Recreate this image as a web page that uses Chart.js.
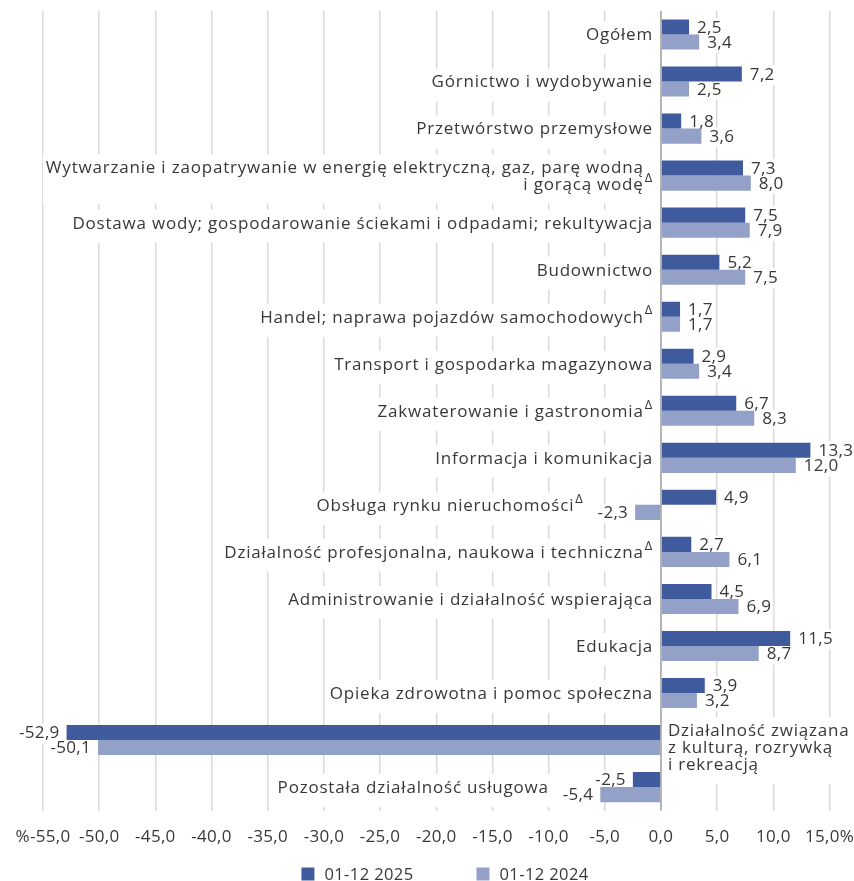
<!DOCTYPE html>
<html lang="pl">
<head>
<meta charset="utf-8">
<script src="https://cdn.jsdelivr.net/npm/chart.js@4.4.1/dist/chart.umd.min.js"></script>
<style>
  html, body { margin: 0; padding: 0; background: #fff; }
  #wrap { width: 854px; height: 881px; }
</style>
</head>
<body>
<div id="wrap"><canvas id="wykres"></canvas></div>
<script>
// Sekcje PKD (od góry)
const kategorie = [
  'Ogółem',
  'Górnictwo i wydobywanie',
  'Przetwórstwo przemysłowe',
  ['Wytwarzanie i zaopatrywanie w energię elektryczną, gaz, parę wodną', 'i gorącą wodę'],
  'Dostawa wody; gospodarowanie ściekami i odpadami; rekultywacja',
  'Budownictwo',
  'Handel; naprawa pojazdów samochodowych',
  'Transport i gospodarka magazynowa',
  'Zakwaterowanie i gastronomia',
  'Informacja i komunikacja',
  'Obsługa rynku nieruchomości',
  'Działalność profesjonalna, naukowa i techniczna',
  'Administrowanie i działalność wspierająca',
  'Edukacja',
  'Opieka zdrowotna i pomoc społeczna',
  ['Działalność związana', 'z kulturą, rozrywką', 'i rekreacją'],
  'Pozostała działalność usługowa'
];
// sekcje oznaczone symbolem Δ
const zDelta = [false, false, false, true, false, false, true, false, true, false, true, true, false, false, false, false, false];

// Serie
const serie = ['01-12 2025', '01-12 2024'];
const wartosci2025 = [2.5, 7.2, 1.8, 7.3, 7.5, 5.2, 1.7, 2.9, 6.7, 13.3, 4.9, 2.7, 4.5, 11.5, 3.9, -52.9, -2.5];
const wartosci2024 = [3.4, 2.5, 3.6, 8.0, 7.9, 7.5, 1.7, 3.4, 8.3, 12.0, -2.3, 6.1, 6.9, 8.7, 3.2, -50.1, -5.4];

// Oś X
const osMin = -55;
const osMax = 15;
const osKrok = 5;

const FONT = '"Open Sans", "Noto Sans", sans-serif';
const ROZSTAW = '0.3px';       // osie, wartości
const ROZSTAW_NAZW = '0.8px';  // nazwy sekcji
const KOLOR_TEKSTU = '#383838';
const fmt = v => v.toFixed(1).replace('.', ',');

// odstęp liter dla całego płótna
const rozstaw = {
  id: 'rozstaw',
  beforeLayout(chart) { chart.ctx.letterSpacing = ROZSTAW; },
  beforeDraw(chart) { chart.ctx.letterSpacing = ROZSTAW; }
};

// wylicza położenie wszystkich napisów (wartości + nazwy sekcji)
function ukladNapisow(chart) {
  const ctx = chart.ctx;
  const sx = chart.scales.x, sy = chart.scales.y;
  const x0 = sx.getPixelForValue(0);
  const area = chart.chartArea;
  const wart = [], nazwy = [];
  ctx.save();
  ctx.letterSpacing = ROZSTAW;
  ctx.font = '17px ' + FONT;
  const lewe = [];
  chart.data.datasets.forEach((ds, di) => {
    chart.getDatasetMeta(di).data.forEach((bar, i) => {
      const v = ds.data[i];
      const t = fmt(v);
      const w = ctx.measureText(t).width;
      let tx;
      if (v >= 0) {
        tx = bar.x + 8;
      } else {
        tx = bar.x - 7 - w;
        lewe[i] = Math.min(lewe[i] ?? x0, tx);
      }
      wart.push({ t, x: tx, y: bar.y + 1, w });
    });
  });
  ctx.letterSpacing = ROZSTAW_NAZW;
  const lineH = 17;
  kategorie.forEach((kat, i) => {
    const linie = Array.isArray(kat) ? kat : [kat];
    ctx.font = '17px ' + FONT;
    const szer = Math.max(...linie.map(l => ctx.measureText(l).width));
    ctx.font = '13px ' + FONT;
    const dW = zDelta[i] ? ctx.measureText('Δ').width + 1 : 0;
    const blok = szer + dW;
    const yc = sy.getPixelForValue(i);
    let top = yc - (linie.length - 1) * lineH / 2;
    const prawo = lewe[i] !== undefined ? lewe[i] - 14 : x0 - 8;
    const doLewej = prawo - blok >= area.left;
    if (!doLewej) top += 7;
    const bTop = top - 13, bBot = top + (linie.length - 1) * lineH + 20;
    const tlo = doLewej
      ? { x: prawo - blok - 3, y: bTop, w: blok + 6, h: bBot - bTop }
      : { x: x0 + 4, y: bTop, w: szer + 8, h: bBot - bTop };
    nazwy.push({ linie, top, lineH, prawo, dW, doLewej, delta: zDelta[i], tlo, lewyX: x0 + 7 });
  });
  ctx.restore();
  return { x0, area, wart, nazwy };
}

// Etykiety: białe tło pod siatką (przed słupkami), tekst po słupkach
const etykiety = {
  id: 'etykiety',
  beforeDatasetsDraw(chart) {
    const u = ukladNapisow(chart);
    const ctx = chart.ctx;
    ctx.save();
    ctx.fillStyle = '#fff';
    u.wart.forEach(e => ctx.fillRect(e.x - 2, e.y - 10, e.w + 4, 20));
    u.nazwy.forEach(n => ctx.fillRect(n.tlo.x, n.tlo.y, n.tlo.w, n.tlo.h));
    ctx.restore();
  },
  afterDatasetsDraw(chart) {
    const u = ukladNapisow(chart);
    const ctx = chart.ctx;
    ctx.save();
    ctx.textBaseline = 'middle';
    ctx.fillStyle = KOLOR_TEKSTU;
    ctx.letterSpacing = ROZSTAW;
    ctx.font = '17px ' + FONT;
    ctx.textAlign = 'left';
    u.wart.forEach(e => ctx.fillText(e.t, e.x, e.y));
    ctx.letterSpacing = ROZSTAW_NAZW;
    u.nazwy.forEach(n => {
      ctx.font = '17px ' + FONT;
      n.linie.forEach((l, k) => {
        const ly = n.top + k * n.lineH + 1;
        if (n.doLewej) {
          ctx.textAlign = 'right';
          ctx.fillText(l, n.prawo - n.dW, ly);
        } else {
          ctx.textAlign = 'left';
          ctx.fillText(l, n.lewyX, ly);
        }
      });
      if (n.delta && n.doLewej) {
        ctx.font = '13px ' + FONT;
        ctx.textAlign = 'right';
        ctx.fillText('Δ', n.prawo, n.top + (n.linie.length - 1) * n.lineH - 6);
      }
    });
    // linia zero
    ctx.strokeStyle = '#a6a6a6';
    ctx.lineWidth = 1.5;
    ctx.beginPath();
    ctx.moveTo(u.x0, u.area.top);
    ctx.lineTo(u.x0, u.area.bottom);
    ctx.stroke();
    ctx.restore();
  }
};

// Legenda pod osią
const legenda = {
  id: 'legenda',
  afterDraw(chart) {
    const ctx = chart.ctx;
    ctx.save();
    ctx.letterSpacing = '0.4px';
    ctx.font = '16.5px ' + FONT;
    ctx.textBaseline = 'middle';
    ctx.textAlign = 'left';
    const yL = chart.height - 7;
    const box = 13, gap = 10, odstep = 63;
    const el = chart.data.datasets.map(ds => ({ t: ds.label, c: ds.backgroundColor, w: ctx.measureText(ds.label).width }));
    const total = el.reduce((s, e) => s + box + gap + e.w, 0) + odstep * (el.length - 1);
    let x = 445 - total / 2;
    el.forEach(e => {
      ctx.fillStyle = e.c;
      ctx.fillRect(x, yL - box / 2, box, box);
      ctx.fillStyle = KOLOR_TEKSTU;
      ctx.fillText(e.t, x + box + gap, yL + 1);
      x += box + gap + e.w + odstep;
    });
    ctx.restore();
  }
};

const data = {
  labels: kategorie,
  datasets: [
    { label: serie[0], data: wartosci2025, backgroundColor: '#3f5b9e' },
    { label: serie[1], data: wartosci2024, backgroundColor: '#93a1c8' }
  ]
};

const config = {
  type: 'bar',
  data: data,
  options: {
    indexAxis: 'y',
    responsive: true,
    maintainAspectRatio: false,
    animation: false,
    datasets: { bar: { categoryPercentage: 0.64, barPercentage: 1.0 } },
    layout: { padding: { left: 43, right: 24.5, top: 11, bottom: 18 } },
    plugins: { legend: { display: false }, tooltip: { enabled: false } },
    scales: {
      x: {
        min: osMin, max: osMax,
        border: { display: false },
        grid: { color: '#d9d9d9', lineWidth: 1.5, drawTicks: false },
        ticks: {
          stepSize: osKrok, autoSkip: false, maxRotation: 0, padding: 16,
          color: KOLOR_TEKSTU, font: { family: FONT, size: 17 },
          callback: (v, i, t) => {
            let s = fmt(v);
            if (i === 0) s = '%' + s;
            if (i === t.length - 1) s = s + '%';
            return s;
          }
        },
        afterFit: (skala) => { skala.paddingLeft = 0; skala.paddingRight = 0; }
      },
      y: { display: false }
    }
  },
  plugins: [rozstaw, etykiety, legenda]
};

const wykres = new Chart(document.getElementById('wykres'), config);
</script>
</body>
</html>
